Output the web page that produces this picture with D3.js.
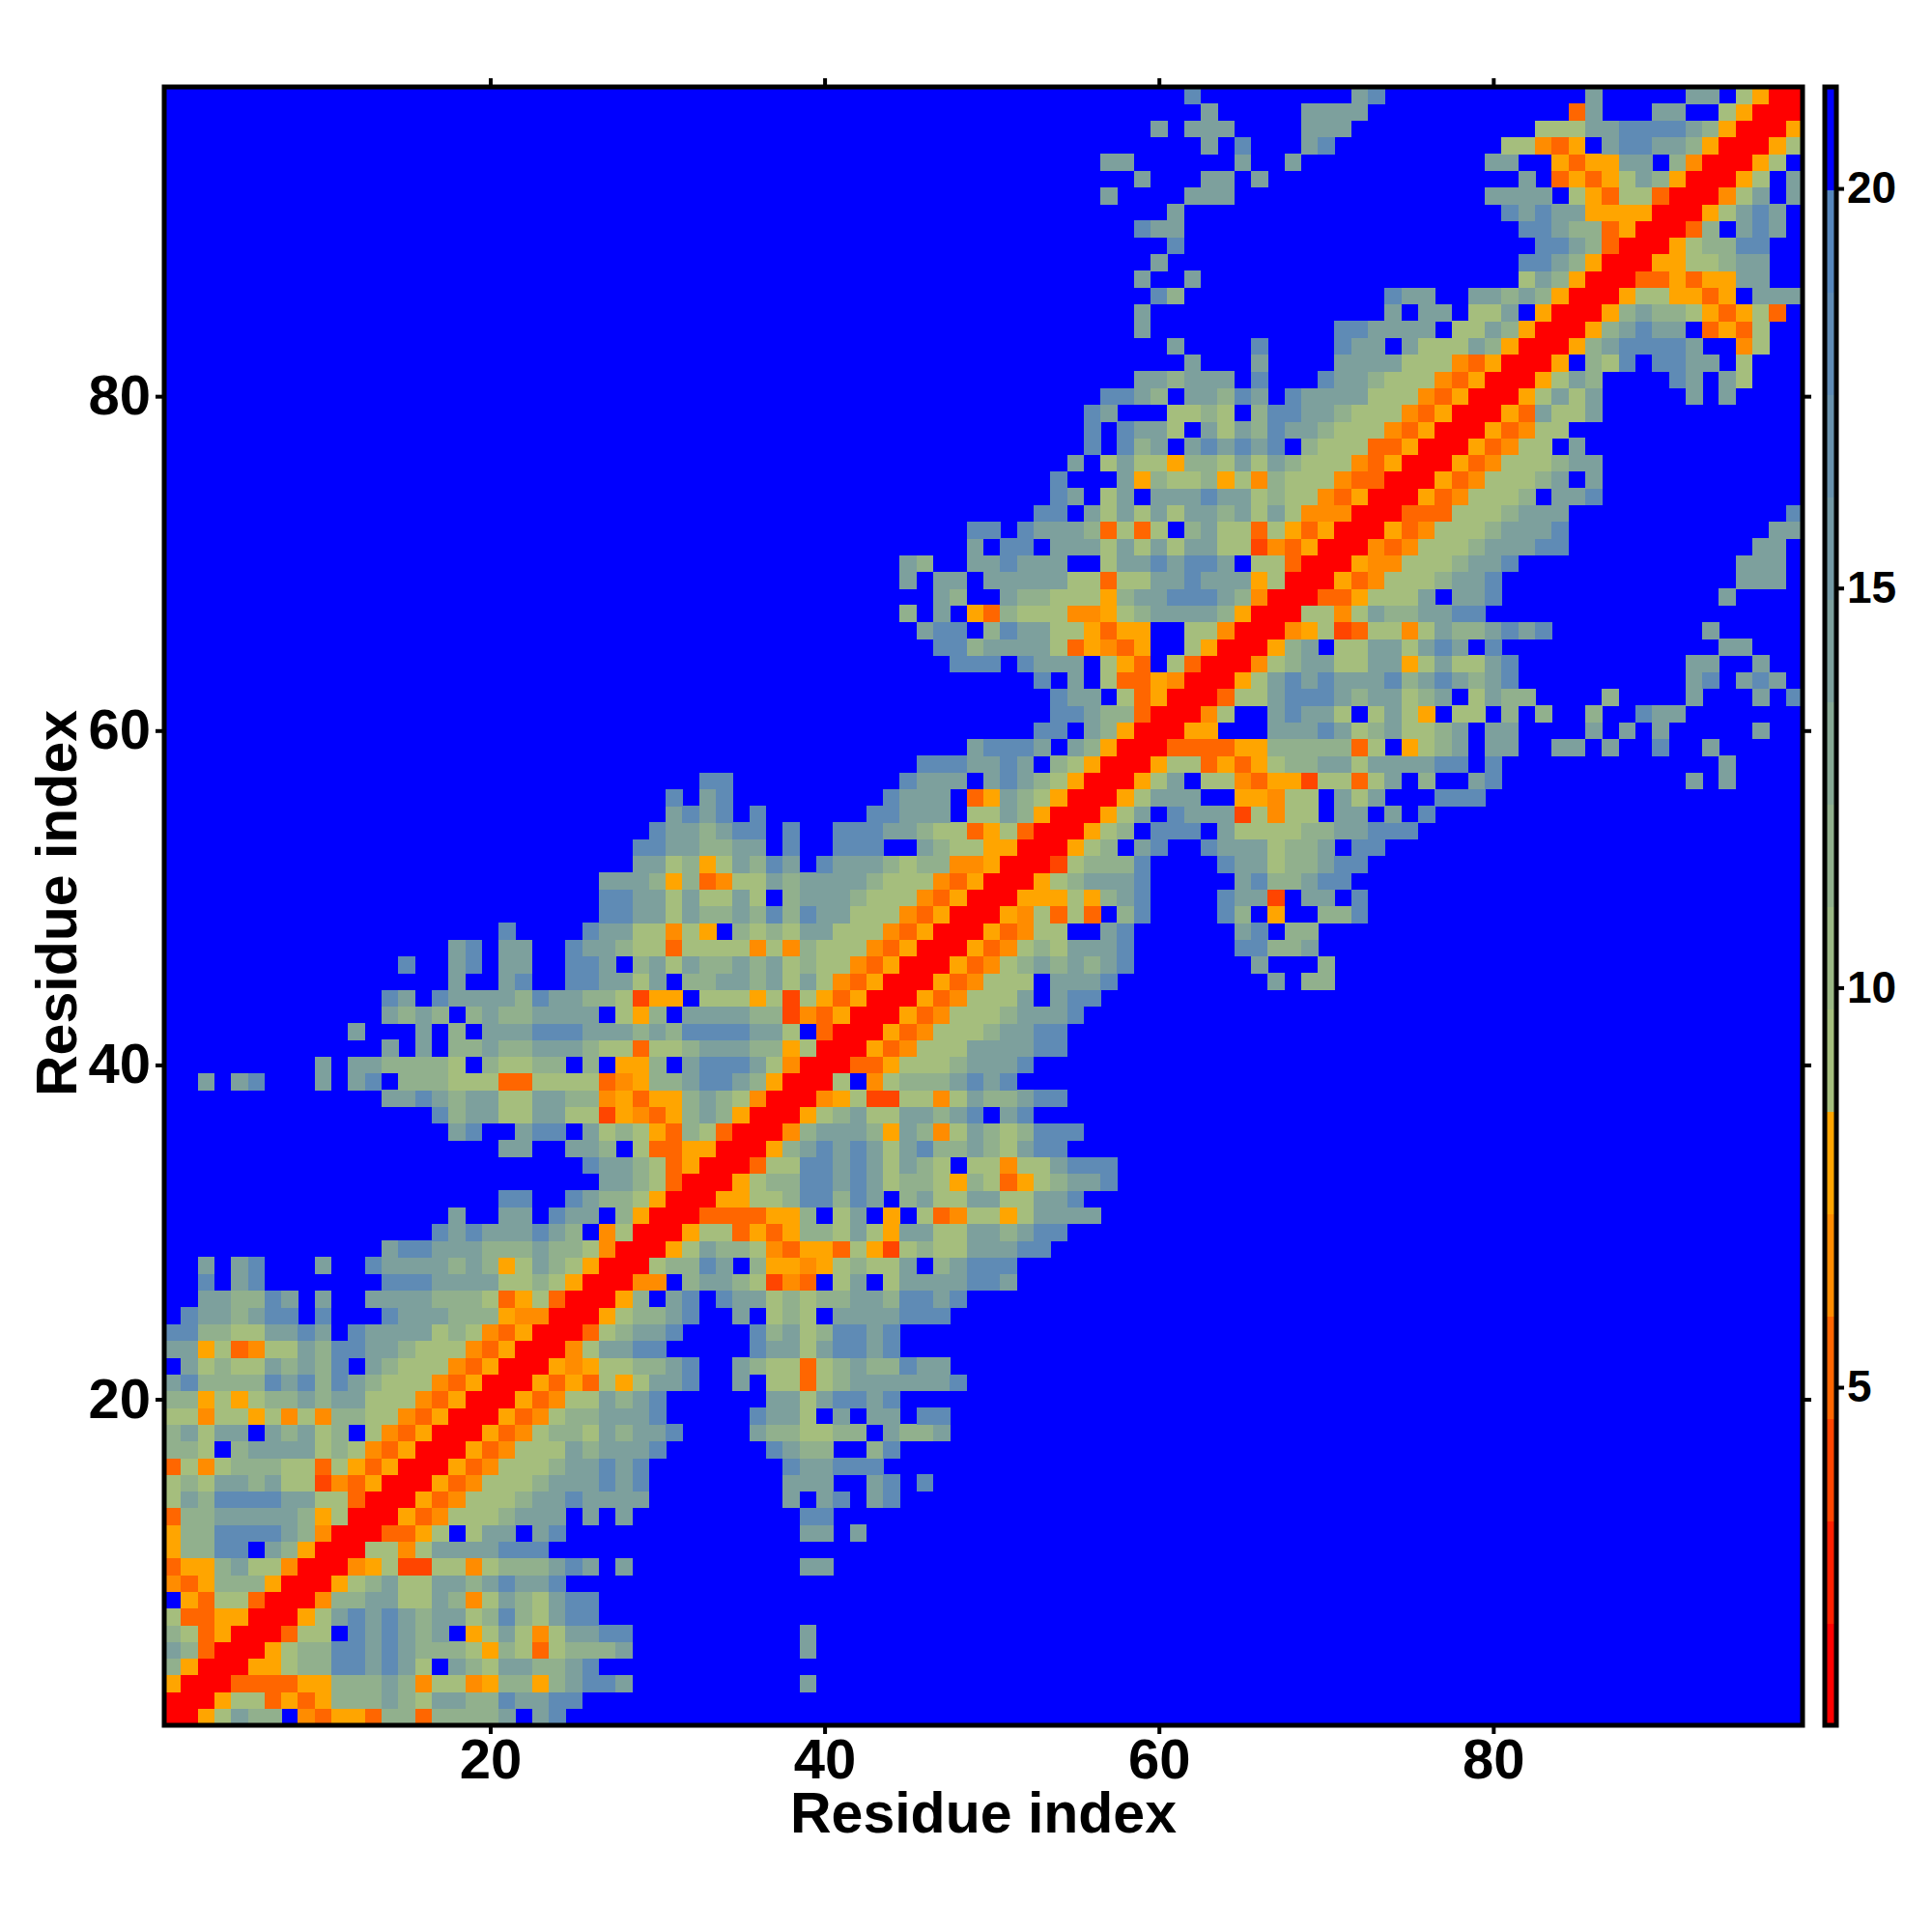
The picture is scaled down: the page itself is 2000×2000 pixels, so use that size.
<!DOCTYPE html>
<html><head><meta charset="utf-8">
<style>html,body{margin:0;background:#fff}svg{display:block}text{font-family:"Liberation Sans",Arial,sans-serif;font-weight:bold;fill:#000}</style>
<script src="https://cdn.jsdelivr.net/npm/d3@7"></script></head><body>
<script>
// Residue distance map, rows listed from residue 1 upward. A number is a run of far (blue) cells.
const rowCodes = [
"rryacbb.odyydbbdbbbbc.ce","rrryaadydybbbcbaccbbeccee","yrrrddddyybbbcboaaoybbybceec10c","byrrryyabbeececa.cbaccbbce",
"cbdrrryabbeececbbbaybadabbbc10c","badyrrrdaa.ececbc.yacaoaccee10c","addyyrrryacececbccabebacee",".ydaadrrrobbccaacboacbacee",
"odybbbyrrryabcaaccbcecce","dyybcaaorrroyaxxaaoabbbcec.c10cc","ybbee.cbyrrraaoacccceee","ybbeeeecborrrddya.acc.ce14cc.c",
"dbbcccccbyarrrydoaaabccc.c.c10ee","acbeeeeccaadrrrydoaaabccecccc8c.ce.ce","abaccbcaaxodyrrrydoaaabcccece8ccc..ce.e","daoabbbaadaydyrrrydoaaabccece8ecceee",
"bba.bccccabaodyrrrydoaaacbccce6ecbb..be","bcacc.cbcab.aodyrrrydoabbacbcce4cbbaabb.cbbc","aaoaayaoaobbaaodyrrrydoabbccce5ecca.c.cc.ee","bbyayabbcbccaaaodyrrrydoaacbce6ccaceece",
"cebbbbecebecbaaaodyrrrydydayacce..c.aadabcccccce",".cabaacbcbe.cbaaaodyrrryoyaabbce..cbaadabcbbecc","ccyadoaacbeeccbaaaodyrrroaccee5eccaceece","eebbaaccec.eccccabaodyrrrdabcce4ebcabeece",
".eccbcee.e...ecccbbbyoorrryabbce..c.aba.cccceee","..ccbbec.c..ccccbbbadyadrrryb.ce.eccababbccbeece","..e.ce.......eeeccccaabayrrroo.bccbaxod.ac.acccceec","..c.ce...c..eccccbcbyacbayrrrabbec.byyoyabaac.bceee",
"13ceecccbbbcbbaorrryacbbaodyydayxabaacccee","16ececccecb.oarrryaadydybbacayccaaccbcee","17c..cc.ecc.byrrrddddyyb.ac.y.adoaayacccc","20ee..ecbbayrrryyaabeebec.bcaaccaacce",
"26ccbadrrryabbeececabbaybadyabcce","25eccbadyrrrdaaeececacba.aaoaaceee","20cc..ccb.addyyrrrybcececacebbcbacee","17ce..cee.cabaydbadrrrobcccbycboacbabeee",
"16ebccaaccaaxyodybcbyrrryabcaaccbce.ce","13ccecbccaaccbboydyybcbaorrroyaxxaaoacbbcee","..c.ce...c.ce.bbbaaaddaaaadoybbceecbyrrra.oabbbcece","9c.ccbbbba.baabb.b.yyb.ceeecaorrrddyaaabccce",
"13c.c.bbcbbcccbaadaabcccbbyarrrydoaaaccccee","11c...c.b.ccceeecccbcbeeeecca.drrrydoaaabccee","13cbcb.bcbbcccc.ayb.ccccbbxodyrrrydoaaabccce","13ec.eccccbeccbbaxyy.aaayaxaydyrrrydoaaac.cee",
"17c..ce..eeccac.bbccbcacaodyrrrydoaaa.ccce9c.bb","14e..ce.cc..eec.bcacbbcbcabaaodyrrrydoabcbcbce7c3b","17ce.cc..eccbaadaaaaoaobaaaodyrrrydoabaccce6eebbc","20e4eccaaoay.babaccaaaodyrrrydoaa..ce6ce.bb",
"26eeccacbbcbebeccaaaodyrrryoadad.be4eb.y..bbe","26eeccacaaca.bcccbaaaodyrrryyyaybce4eccx.cc.e","26cccbybdoaacbccccbaaaodyrrryabccce5cebbcee","28ccabyacbec.ecccbabbooyrrrxabbbe4eccabbcee",
"28eeccbbcc.e..eee..cbaayyrrryab.ce..ecccabbc.ee","29eccbcee.e..eeeccbaadyadrrryab.eee.caaaabbcceee","30cece.e6eeccc.aacbyrrryac.ecccxaoaa.cc.c.e","30e.ce9eccc.dycbayrrryaccc..yyoaa.cac...eee",
"32ee10eccc.cecbayrrryac.aaodyyxaadac.b..ce11c.c","45eeeccec.bayrrryaadydyabbccaccccee.e13c","48ceeec.cbyrrrddddyybbbbbda.yabc.cc..cc.c..e..c","52ee.cbyrrryy...cccecabcaabc.cc4c.c.c5c",
"53eecbbdrrroa..cecca.acay.aa.b.b..b..ecc","53ecc.adyrrrdaaceeecbccabc.acbb4b4c3c.e","52e.c.addyorrryacececccebcecbce10ce.cec","47eee.eccc.ayd.adrrroabccaaccyacaace10cc..c",
"46eebccccadyody..ayrrrybc.aaccacec.e13cc","45cee.beccaaydyy..aaorrroyaxdaaoacbbcece9c","44b.c.ydbaaaooyabccccbyrrraaoacbbccee","46cb..cbbaaaybcceeecborrrddyaaac.cce13c",
"44c.cc.cccccaadaaccecccyarrrydoaaabcce14ccc","44cb..cceccc..acceceec.aadrrryooaaabcce13ccc","48c.ee.cccacacaccaaxodyrrrodoaaabcccee11cc","48ee.ecccbdada.bcaadaydyrrrydoaaabccce12cc",
"52ee.cacacaccbcacaooorrrdddaaabccc13e","53ec.ac.ccceccabaaodyrrrydoaaab.cce","53e...cybaabyaobaaaoddrrrydoaaabc.c","54c.acaaybbacacbaaaodyrrrydoaaabcc",
"55e.ebc.cecece.baaaddyrrrydoaa.c","55e.ecca.cacbeccbaaaodyrrrydoaa","55ec...aaba.beeccbaaaodyrrrydcaac","56eecb.ccbec.eccccaaaodyrrryacac5c.c",
"58ccbccc.e...eccbaaaodyrrryacb4ec.ca","61c...c4ccccaaaodyrrry.bae.eecc.a","60c4e4ecc.caaacbyrrrybceeeec..oa","58c11eecccc.aacbyrrrybcecc.dyda",
"58c14c.cc.aac.yrrrybcbbaydyad","59eb12ecc..ccbcbyrrryaayydy.ccc","58c..c19acbyrrrddydyycc","59c21eecbyrrryyaabcc",
"60e21eecbdrrryabbee","58ecc20eecbbdyrrrdb.cec","60c19ececcyyyyrrryacec","56c4ccc15cccc.aydaadrrroac.c",
"58c3cc.c15c.dydyacbyrrrya.c","56cc6c..c11cc..ydyycc.borrrya.","62c.e3ce10aaody.ceeccbyrrrya","59c.ccc4ccc11aaacceeeecbyrrry",
"62c5cccc12dc3cc..ayrrr","61e9ce12c5cc.ayrr"
];
const codeValues = {r:1.5,x:4,d:5.2,o:6.5,y:7.8,a:9.1,b:11.5,c:13.9,e:18,".":21};
const axisTicks = [20,40,60,80];
const barTicks = [5,10,15,20];
const barColors = ["#ff0000","#ff2000","#ff4500","#ff6600","#ff8c00","#ffa500",
 "#a5be7d","#9bb885","#91b08d","#87a995","#7da09d","#7399a5","#6992ad","#5f8bb5","#5586bc","#0000ff"];
const barDomain = [0.77,21.27];
const residueCount = 98;

const cells=[];
rowCodes.forEach((code,i)=>{
  let col=1;
  for(const m of code.matchAll(/(\d+)|(.)/g)){
    if(m[1]){col+=+m[1];continue;}
    if(m[2]!=="."){cells.push({x:col,y:i+1,v:codeValues[m[2]]});}
    col++;
  }
  if(col>residueCount+1) console.error("row too long",i+1,col);
});
const L=170,R=1866,T=90,B=1786;
const x=d3.scaleLinear().domain([0.5,residueCount+0.5]).range([L,R]);
const y=d3.scaleLinear().domain([0.5,residueCount+0.5]).range([B,T]);
const step=(barDomain[1]-barDomain[0])/barColors.length;
const thresholds=d3.range(1,barColors.length).map(i=>barDomain[0]+i*step);
const color=d3.scaleThreshold().domain(thresholds).range(barColors);
const bar=d3.scaleLinear().domain(barDomain).range([B,T]);

const svg=d3.select("body").append("svg").attr("width",2000).attr("height",2000);
svg.append("rect").attr("x",L).attr("y",T).attr("width",R-L).attr("height",B-T).attr("fill",color(21));
svg.append("g").attr("shape-rendering","crispEdges").selectAll("rect").data(cells).join("rect")
  .attr("x",d=>x(d.x-.5)).attr("y",d=>y(d.y+.5))
  .attr("width",d=>x(d.x+.5)-x(d.x-.5)+.4).attr("height",d=>y(d.y-.5)-y(d.y+.5)+.4)
  .attr("fill",d=>color(d.v));
svg.append("rect").attr("x",L).attr("y",T).attr("width",R-L).attr("height",B-T).attr("fill","none").attr("stroke","#000").attr("stroke-width",5);

function style(g,size){
  g.select(".domain").remove();
  g.selectAll(".tick line").attr("stroke","#000").attr("stroke-width",4);
  g.selectAll(".tick text").style("font-size",size+"px");
}
svg.append("g").attr("transform",`translate(0,${B+2})`)
  .call(d3.axisBottom(x).tickValues(axisTicks).tickSize(7).tickPadding(5).tickFormat(d3.format("d")))
  .call(g=>style(g,58));
svg.append("g").attr("transform",`translate(${L-2},0)`)
  .call(d3.axisLeft(y).tickValues(axisTicks).tickSize(7).tickPadding(5).tickFormat(d3.format("d")))
  .call(g=>style(g,58));
svg.append("g").attr("transform",`translate(0,${T-2})`)
  .call(d3.axisTop(x).tickValues(axisTicks).tickSize(7).tickFormat(""))
  .call(g=>style(g,58));
svg.append("g").attr("transform",`translate(${R+2},0)`)
  .call(d3.axisRight(y).tickValues(axisTicks).tickSize(7).tickFormat(""))
  .call(g=>style(g,58));
svg.append("text").attr("x",1018).attr("y",1897).attr("text-anchor","middle").style("font-size","59px").text("Residue index");
svg.append("text").attr("transform","translate(79,935) rotate(-90)").attr("text-anchor","middle").style("font-size","59px").text("Residue index");

const bx=1889,bw=12;
svg.append("g").attr("shape-rendering","crispEdges").selectAll("rect").data(barColors).join("rect")
  .attr("x",bx).attr("width",bw)
  .attr("y",(d,i)=>bar(barDomain[0]+(i+1)*step)).attr("height",(d,i)=>bar(barDomain[0]+i*step)-bar(barDomain[0]+(i+1)*step)+.5)
  .attr("fill",d=>d);
svg.append("rect").attr("x",bx).attr("y",T).attr("width",bw).attr("height",B-T).attr("fill","none").attr("stroke","#000").attr("stroke-width",5);
svg.append("g").attr("transform",`translate(${bx+bw+2},0)`)
  .call(d3.axisRight(bar).tickValues(barTicks).tickSize(6).tickPadding(3).tickFormat(d3.format("d")))
  .call(g=>style(g,46));
</script></body></html>
